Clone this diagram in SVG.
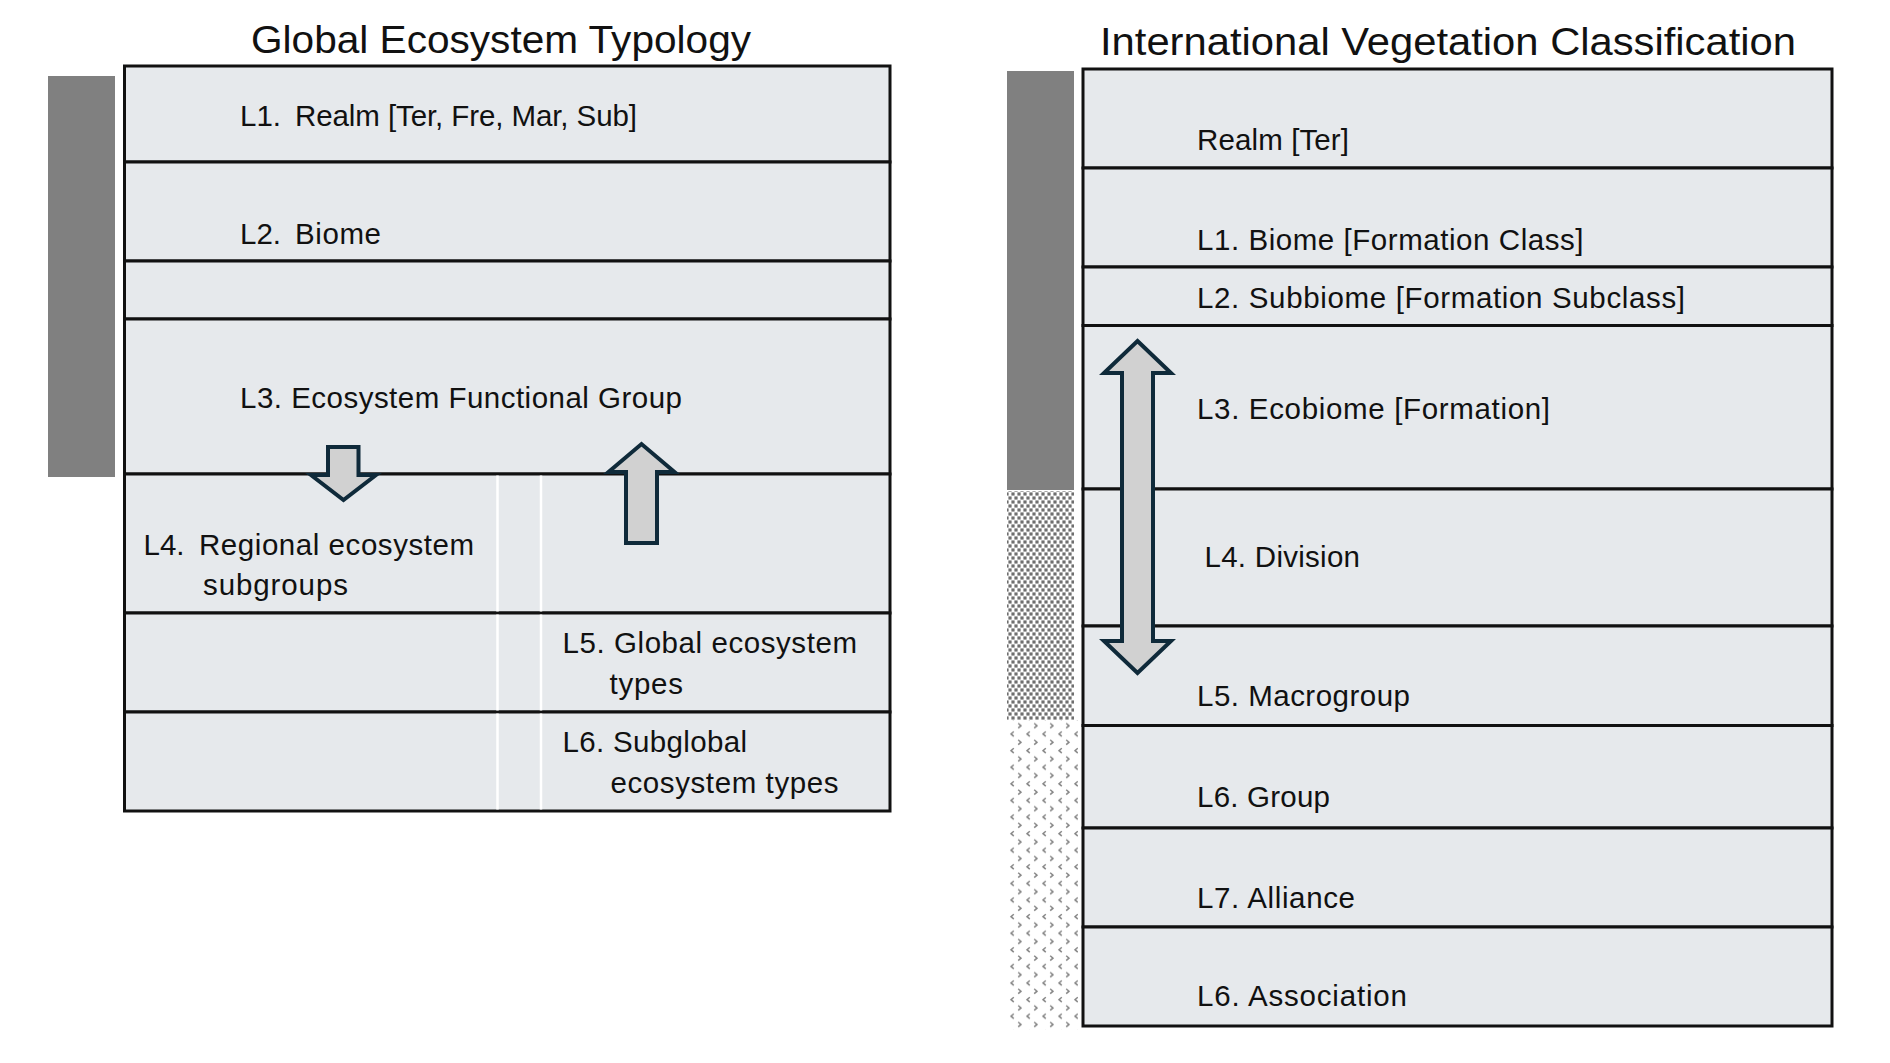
<svg xmlns="http://www.w3.org/2000/svg" width="1890" height="1063" viewBox="0 0 1890 1063">
<style>
.row{fill:#E6E9EC;stroke:#111;stroke-width:3}
.t{font-family:"Liberation Sans",Arial,sans-serif;font-size:29.5px;fill:#111}
.title{font-family:"Liberation Sans",Arial,sans-serif;font-size:38px;fill:#111}
.bar{fill:#808080}
.arrow{fill:#D1D1D1;stroke:#0F2A3A;stroke-width:4;stroke-linejoin:miter}
.wl{stroke:#fff;stroke-width:2.5}
</style>
<defs>
<pattern id="dots" width="6" height="8" patternUnits="userSpaceOnUse">
<rect width="6" height="8" fill="#fff"/>
<rect x="0.4" y="0.4" width="3.2" height="3.2" fill="#6f6f6f"/>
<rect x="3.4" y="4.4" width="3.2" height="3.2" fill="#6f6f6f"/>
<rect x="-2.6" y="4.4" width="3.2" height="3.2" fill="#6f6f6f"/>
</pattern>
<pattern id="chev" width="16" height="16.6" patternUnits="userSpaceOnUse">
<rect width="16" height="16.6" fill="#fff"/>
<polyline points="5.8,1.2 3,3.6 5.8,6" fill="none" stroke="#858585" stroke-width="1.5"/>
<polyline points="10.2,9.5 13,11.9 10.2,14.3" fill="none" stroke="#858585" stroke-width="1.5"/>
</pattern>
</defs>
<rect width="1890" height="1063" fill="#fff"/>

<text class="title" x="251" y="53" textLength="500" lengthAdjust="spacingAndGlyphs">Global Ecosystem Typology</text>
<text class="title" x="1100" y="55" textLength="696" lengthAdjust="spacingAndGlyphs">International Vegetation Classification</text>

<!-- Left side -->
<rect id="get-bar" class="bar" x="48" y="76" width="67" height="401"/>

<g id="get-l1">
<rect class="row" x="124.5" y="66" width="765.5" height="96"/>
<text class="t" x="240" y="126">L1.</text>
<text class="t" x="295" y="126" textLength="342">Realm [Ter, Fre, Mar, Sub]</text>
</g>
<g id="get-l2">
<rect class="row" x="124.5" y="162" width="765.5" height="99"/>
<text class="t" x="240" y="243.5">L2.</text>
<text class="t" x="295" y="243.5" textLength="86">Biome</text>
</g>
<g id="get-gap">
<rect class="row" x="124.5" y="261" width="765.5" height="58"/>
</g>
<g id="get-l3">
<rect class="row" x="124.5" y="319" width="765.5" height="155"/>
<text class="t" x="240" y="408" textLength="442">L3. Ecosystem Functional Group</text>
</g>
<g id="get-l4">
<rect class="row" x="124.5" y="474" width="765.5" height="139"/>
<text class="t" x="143.5" y="555">L4.</text>
<text class="t" x="199" y="555" textLength="275">Regional ecosystem</text>
<text class="t" x="203" y="595" textLength="145">subgroups</text>
</g>
<g id="get-l5">
<rect class="row" x="124.5" y="613" width="765.5" height="99"/>
<text class="t" x="562.5" y="653" textLength="294.5">L5. Global ecosystem</text>
<text class="t" x="609.5" y="694" textLength="73.5">types</text>
</g>
<g id="get-l6">
<rect class="row" x="124.5" y="712" width="765.5" height="99"/>
<text class="t" x="562.5" y="752" textLength="184.5">L6. Subglobal</text>
<text class="t" x="610.5" y="793" textLength="228">ecosystem types</text>
</g>
<g id="get-dividers">
<line class="wl" x1="497.5" y1="475.5" x2="497.5" y2="611.5"/>
<line class="wl" x1="497.5" y1="614.5" x2="497.5" y2="710.5"/>
<line class="wl" x1="497.5" y1="713.5" x2="497.5" y2="809.5"/>
<line class="wl" x1="541" y1="475.5" x2="541" y2="611.5"/>
<line class="wl" x1="541" y1="614.5" x2="541" y2="710.5"/>
<line class="wl" x1="541" y1="713.5" x2="541" y2="809.5"/>
</g>

<!-- Right side -->
<rect id="ivc-bar" class="bar" x="1007" y="71" width="67" height="419"/>
<rect id="ivc-dots" x="1007" y="491" width="67" height="229" fill="url(#dots)"/>
<rect id="ivc-chev" x="1007" y="720" width="71" height="310" fill="url(#chev)"/>

<g id="ivc-realm">
<rect class="row" x="1083" y="69" width="749" height="99"/>
<text class="t" x="1197" y="150" textLength="152">Realm [Ter]</text>
</g>
<g id="ivc-l1">
<rect class="row" x="1083" y="168" width="749" height="99"/>
<text class="t" x="1197" y="250" textLength="386.5">L1. Biome [Formation Class]</text>
</g>
<g id="ivc-l2">
<rect class="row" x="1083" y="267" width="749" height="58.5"/>
<text class="t" x="1197" y="308" textLength="488">L2. Subbiome [Formation Subclass]</text>
</g>
<g id="ivc-l3">
<rect class="row" x="1083" y="325.5" width="749" height="163.5"/>
<text class="t" x="1197" y="418.5" textLength="353">L3. Ecobiome [Formation]</text>
</g>
<g id="ivc-l4">
<rect class="row" x="1083" y="489" width="749" height="137"/>
<text class="t" x="1204.5" y="567" textLength="155.5">L4. Division</text>
</g>
<g id="ivc-l5">
<rect class="row" x="1083" y="626" width="749" height="99.5"/>
<text class="t" x="1197" y="706" textLength="213">L5. Macrogroup</text>
</g>
<g id="ivc-l6">
<rect class="row" x="1083" y="725.5" width="749" height="102.5"/>
<text class="t" x="1197" y="807" textLength="133">L6. Group</text>
</g>
<g id="ivc-l7">
<rect class="row" x="1083" y="828" width="749" height="99"/>
<text class="t" x="1197" y="907.5" textLength="158">L7. Alliance</text>
</g>
<g id="ivc-l8">
<rect class="row" x="1083" y="927" width="749" height="99"/>
<text class="t" x="1197" y="1006" textLength="210">L6. Association</text>
</g>

<g id="connectors">
<path class="arrow" d="M328,447 H358.5 V475 H376 L343.5,500 L311,475 H328 Z"/>
<path class="arrow" d="M626,543 V472 H608.5 L641.5,444 L674.5,472 H657 V543 Z"/>
<path class="arrow" d="M1137.5,341 L1171,373 H1153 V641 H1171 L1137.5,673 L1104,641 H1122 V373 H1104 Z"/>
</g>
</svg>
